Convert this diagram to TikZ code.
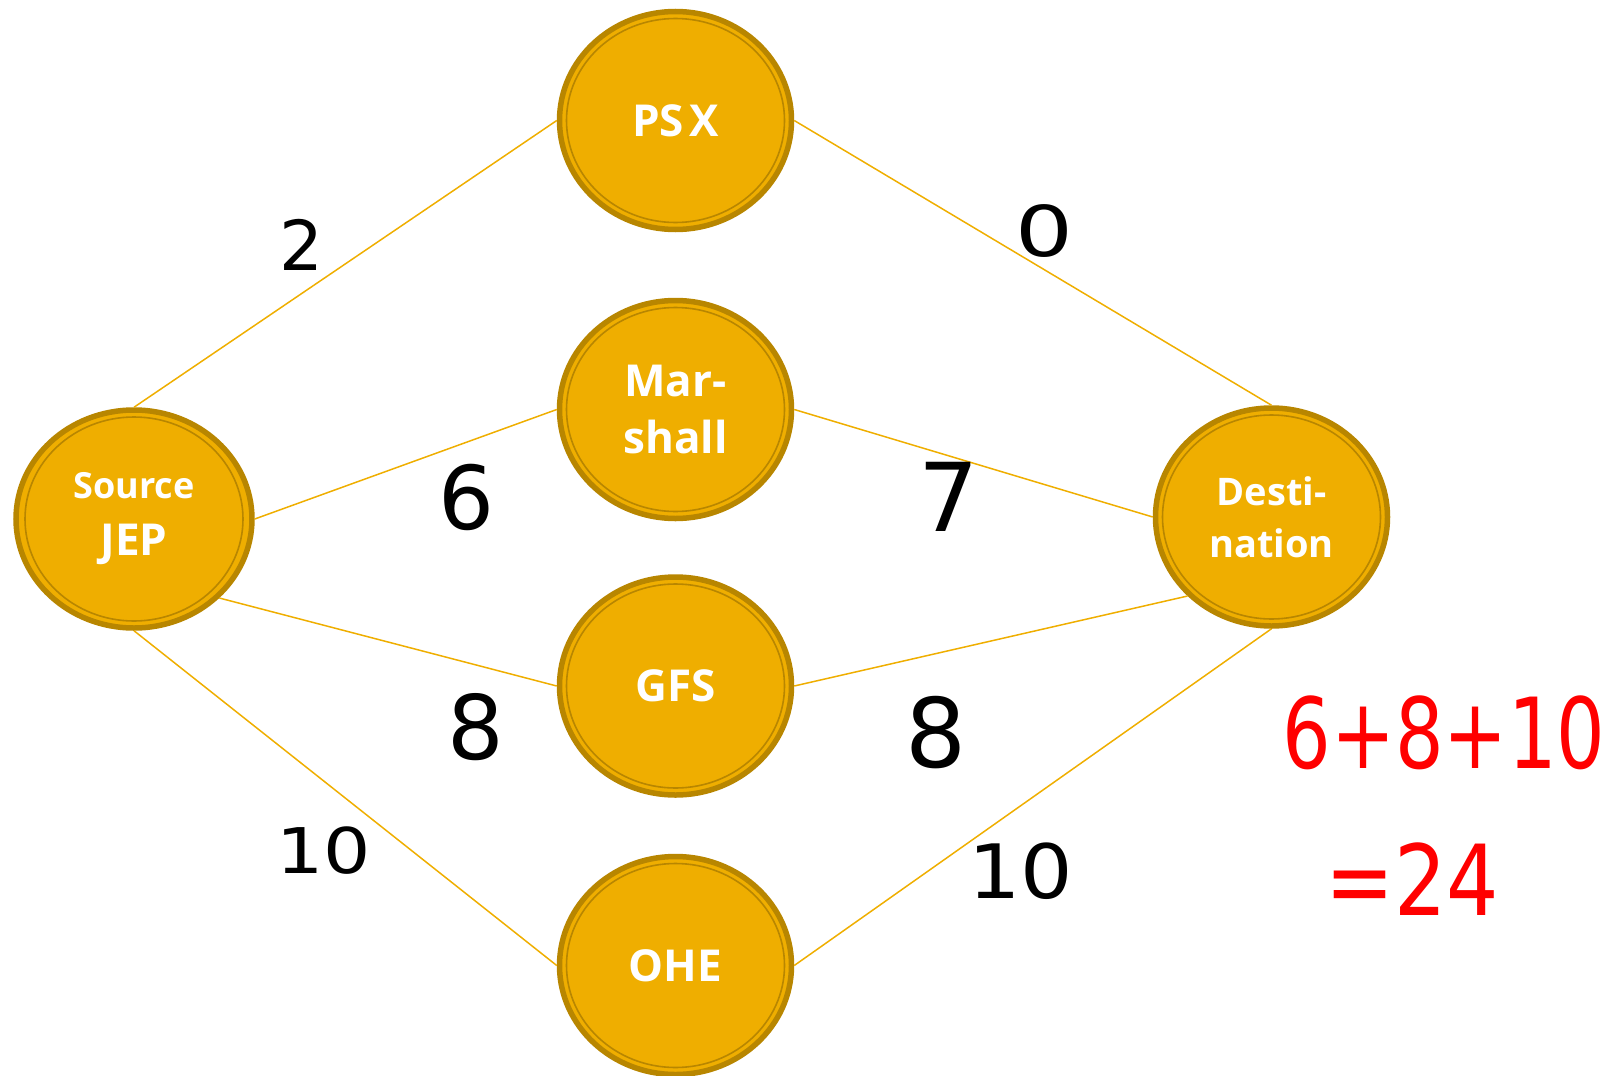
\documentclass[tikz,border=0pt]{standalone}
\usepackage{graphicx}
\usepackage{fontspec}
\setmainfont{DejaVu Sans}
\newfontfamily\nodefont{Open Sans}
\usetikzlibrary{shapes.geometric}
\definecolor{gold}{RGB}{239,174,0}
\definecolor{darkgold}{RGB}{184,134,0}
\definecolor{redtxt}{RGB}{255,0,0}
\tikzset{
  station/.style={ellipse, fill=gold, draw=darkgold, line width=5.5pt,
    minimum width=232pt, minimum height=218pt, inner sep=0pt,
    text=white, align=center, font=\nodefont\bfseries\fontsize{44}{52}\selectfont},
  inner/.style={draw=darkgold, line width=1.6pt},
  link/.style={draw=gold, line width=1.5pt},
  weight/.style={inner sep=0pt, text=black},
  sumtxt/.style={inner sep=0pt, text=redtxt, font=\fontsize{98}{105}\selectfont}
}
\newcommand{\innerring}[1]{\draw[inner] (#1.center) ellipse (109pt and 102pt);}
\begin{document}
\begin{tikzpicture}[x=1pt,y=-1pt]
\useasboundingbox (0,0) rectangle (1612,1076);
\node[station] (psx) at (675.5,120.5) {PS\hspace{0.12em}X};
\node[station] (mar) at (675.5,409.5) {Mar-\\[5pt]shall};
\node[station] (gfs) at (675.5,686) {GFS};
\node[station] (ohe) at (675.5,965.5) {OHE};
\node[station, minimum width=236pt] (src) at (134,519) {{\fontsize{36}{44}\selectfont Source}\\[5pt]JEP};
\node[station] (dst) at (1271.5,517) {\fontsize{38}{46}\selectfont Desti-\\[0pt]\fontsize{38}{46}\selectfont nation};
\foreach \n in {psx,mar,gfs,ohe,src,dst} {\innerring{\n}}
\draw[link] (src.north) -- (psx.west);
\draw[link] (src.east) -- (mar.west);
\draw[link] (src.south east) -- (gfs.west);
\draw[link] (src.south) -- (ohe.west);
\draw[link] (psx.east) -- (dst.north);
\draw[link] (mar.east) -- (dst.west);
\draw[link] (gfs.east) -- (dst.south west);
\draw[link] (ohe.east) -- (dst.south);
\node[weight, font=\fontsize{69}{75}\selectfont] (w1) at (301,245) {2};
\node[weight, font=\fontsize{70}{75}\selectfont] (w2) at (1044,231) {\scalebox{1.3}[1]{0}};
\node[weight, font=\fontsize{88}{95}\selectfont] (w3) at (466,497) {6};
\node[weight, font=\fontsize{95}{100}\selectfont] (w4) at (949,497) {7};
\node[weight, font=\fontsize{89}{95}\selectfont] (w5) at (476,727) {8};
\node[weight, font=\fontsize{96}{100}\selectfont] (w6) at (936,733) {8};
\node[weight, font=\fontsize{63}{70}\selectfont] (w7) at (324,851) {\scalebox{1.18}[1]{10}};
\node[weight, font=\fontsize{75}{80}\selectfont] (w8) at (1021,871) {\scalebox{1.1}[1]{10}};
\node[sumtxt] (s1) at (1444,733) {\scalebox{0.78}[1]{6+8+10}};
\node[sumtxt] (s2) at (1412,879) {\scalebox{0.84}[1]{=24}};
\end{tikzpicture}
\end{document}
